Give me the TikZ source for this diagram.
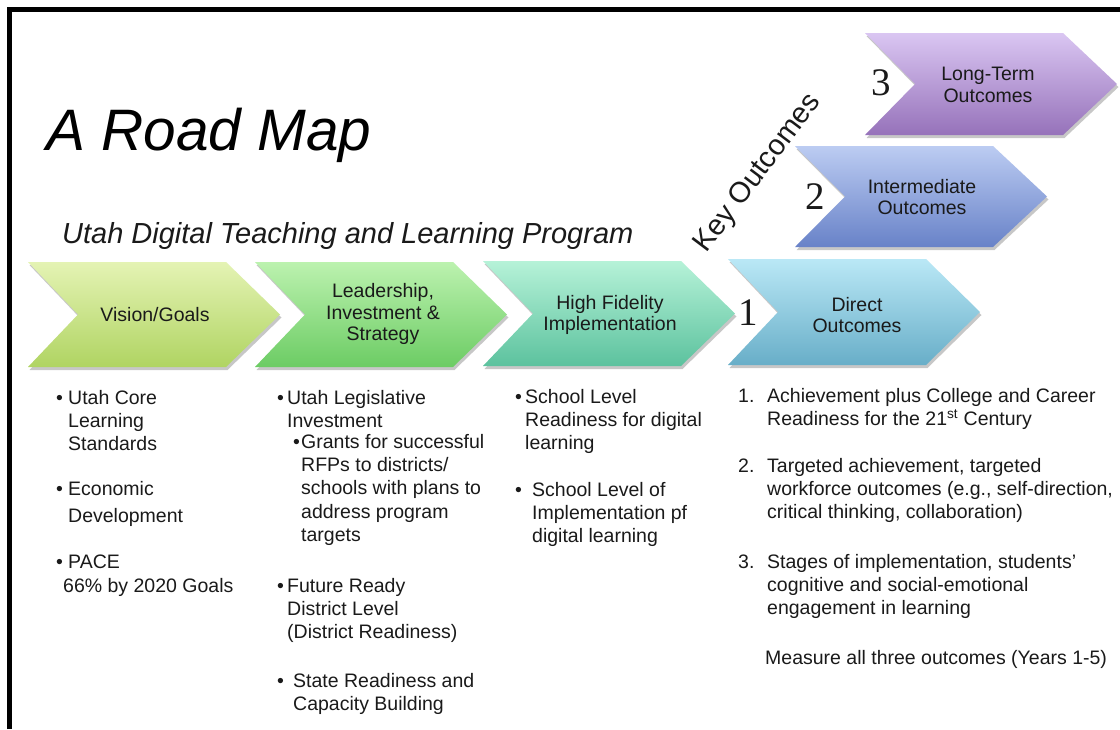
\documentclass[tikz,border=0pt]{standalone}
\usepackage{fontspec}
\setmainfont{Liberation Sans}
\newfontfamily\numfont{Liberation Serif}
\usetikzlibrary{positioning}
\definecolor{visT}{RGB}{228,243,180}
\definecolor{visB}{RGB}{176,212,98}
\definecolor{ledT}{RGB}{188,242,175}
\definecolor{ledB}{RGB}{108,204,100}
\definecolor{hifT}{RGB}{182,242,216}
\definecolor{hifB}{RGB}{92,194,158}
\definecolor{dirT}{RGB}{186,232,246}
\definecolor{dirB}{RGB}{104,174,200}
\definecolor{intT}{RGB}{188,204,242}
\definecolor{intB}{RGB}{104,130,200}
\definecolor{lngT}{RGB}{218,198,242}
\definecolor{lngB}{RGB}{150,114,186}
\definecolor{ink}{RGB}{26,26,26}
\newcommand\chev[5]{%
  \fill[black,opacity=0.22,shift={(1.5,3)}] (#1,#2) -- (#1+198,#2) -- (#1+252,#2+#3/2) -- (#1+198,#2+#3) -- (#1,#2+#3) -- (#1+50,#2+#3/2) -- cycle;
  \shade[top color=#4,bottom color=#5] (#1,#2) -- (#1+198,#2) -- (#1+252,#2+#3/2) -- (#1+198,#2+#3) -- (#1,#2+#3) -- (#1+50,#2+#3/2) -- cycle;}
\newcommand\bul[1]{\llap{\makebox[#1][l]{\textbullet}}}
\newcommand\enm[1]{\llap{\makebox[29pt][l]{#1}}}
\begin{document}
\begin{tikzpicture}[x=1pt,y=-1pt,
  chevlabel/.style={align=center,text=ink,inner sep=0pt,font=\fontsize{19.5}{21.5}\selectfont},
  body/.style={align=left,anchor=north west,text=ink,inner sep=0pt,font=\fontsize{19.5}{23.3}\selectfont,execute at begin node={\rule{0pt}{18pt}}},
  bignum/.style={text=ink,inner sep=0pt,font=\numfont\fontsize{39}{39}\selectfont}]
\useasboundingbox (0,0) rectangle (1120,729);
\fill[white] (0,0) rectangle (1120,729);
% frame
\draw[line width=5pt,black] (9.5,729) -- (9.5,9.5) -- (1120,9.5);
% titles
\node[anchor=base west,inner sep=0pt,text=black,font=\itshape\fontsize{58.5}{58.5}\selectfont] (title) at (46,150) {A Road Map};
\node[anchor=base west,inner sep=0pt,text=ink,font=\itshape\fontsize{29}{29}\selectfont] (subtitle) at (62,243) {Utah Digital Teaching and Learning Program};
\node[anchor=base,inner sep=0pt,rotate=53,text=ink,font=\fontsize{29}{29}\selectfont] (key) at (764,178) {Key Outcomes};
% chevrons
\chev{28}{262}{105}{visT}{visB}
\chev{255}{262}{105}{ledT}{ledB}
\chev{483}{261}{105}{hifT}{hifB}
\chev{728}{259}{106}{dirT}{dirB}
\chev{795}{146}{101}{intT}{intB}
\chev{865}{33}{102}{lngT}{lngB}
\node[chevlabel] (vision) at (155,315) {Vision/Goals};
\node[chevlabel] (lead) at (383,314) {Leadership,\\Investment \&\\Strategy};
\node[chevlabel] (hifi) at (610,315) {High Fidelity\\Implementation};
\node[chevlabel] (direct) at (857,315) {Direct\\Outcomes};
\node[chevlabel] (inter) at (922,197) {Intermediate\\Outcomes};
\node[chevlabel] (long) at (988,85) {Long-Term\\Outcomes};
\node[bignum] (n1) at (748,313) {1};
\node[bignum] (n2) at (815,197) {2};
\node[bignum] (n3) at (881,83) {3};
% column 1
\node[body] (c1a) at (68,390) {\bul{12pt}Utah Core\\Learning\\Standards};
\node[body] (c1b) at (68,481) {\bul{12pt}Economic\\[4pt]Development};
\node[body] (c1c) at (68,555) {\bul{12pt}PACE\\\hspace*{-5pt}66\% by 2020 Goals};
% column 2
\node[body] (c2a) at (287,390) {\bul{10pt}Utah Legislative\\Investment};
\node[body] (c2b) at (301,434) {\bul{8pt}Grants for successful\\RFPs to districts/\\schools with plans to\\address program\\targets};
\node[body] (c2c) at (287,578) {\bul{10pt}Future Ready\\District Level\\(District Readiness)};
\node[body] (c2d) at (293,673) {\bul{16pt}State Readiness and\\Capacity Building};
% column 3
\node[body] (c3a) at (525,389) {\bul{10pt}School Level\\Readiness for digital\\learning};
\node[body] (c3b) at (532,482) {\bul{17pt}School Level of\\Implementation pf\\digital learning};
% column 4
\node[body] (c4a) at (767,388) {\enm{1.}Achievement plus College and Career\\Readiness for the 21\textsuperscript{st} Century};
\node[body] (c4b) at (767,458) {\enm{2.}Targeted achievement, targeted\\workforce outcomes (e.g., self-direction,\\critical thinking, collaboration)};
\node[body] (c4c) at (767,554) {\enm{3.}Stages of implementation, students’\\cognitive and social-emotional\\engagement in learning};
\node[body] (c4d) at (765,646) {Measure all three outcomes (Years 1-5)};
\end{tikzpicture}
\end{document}
